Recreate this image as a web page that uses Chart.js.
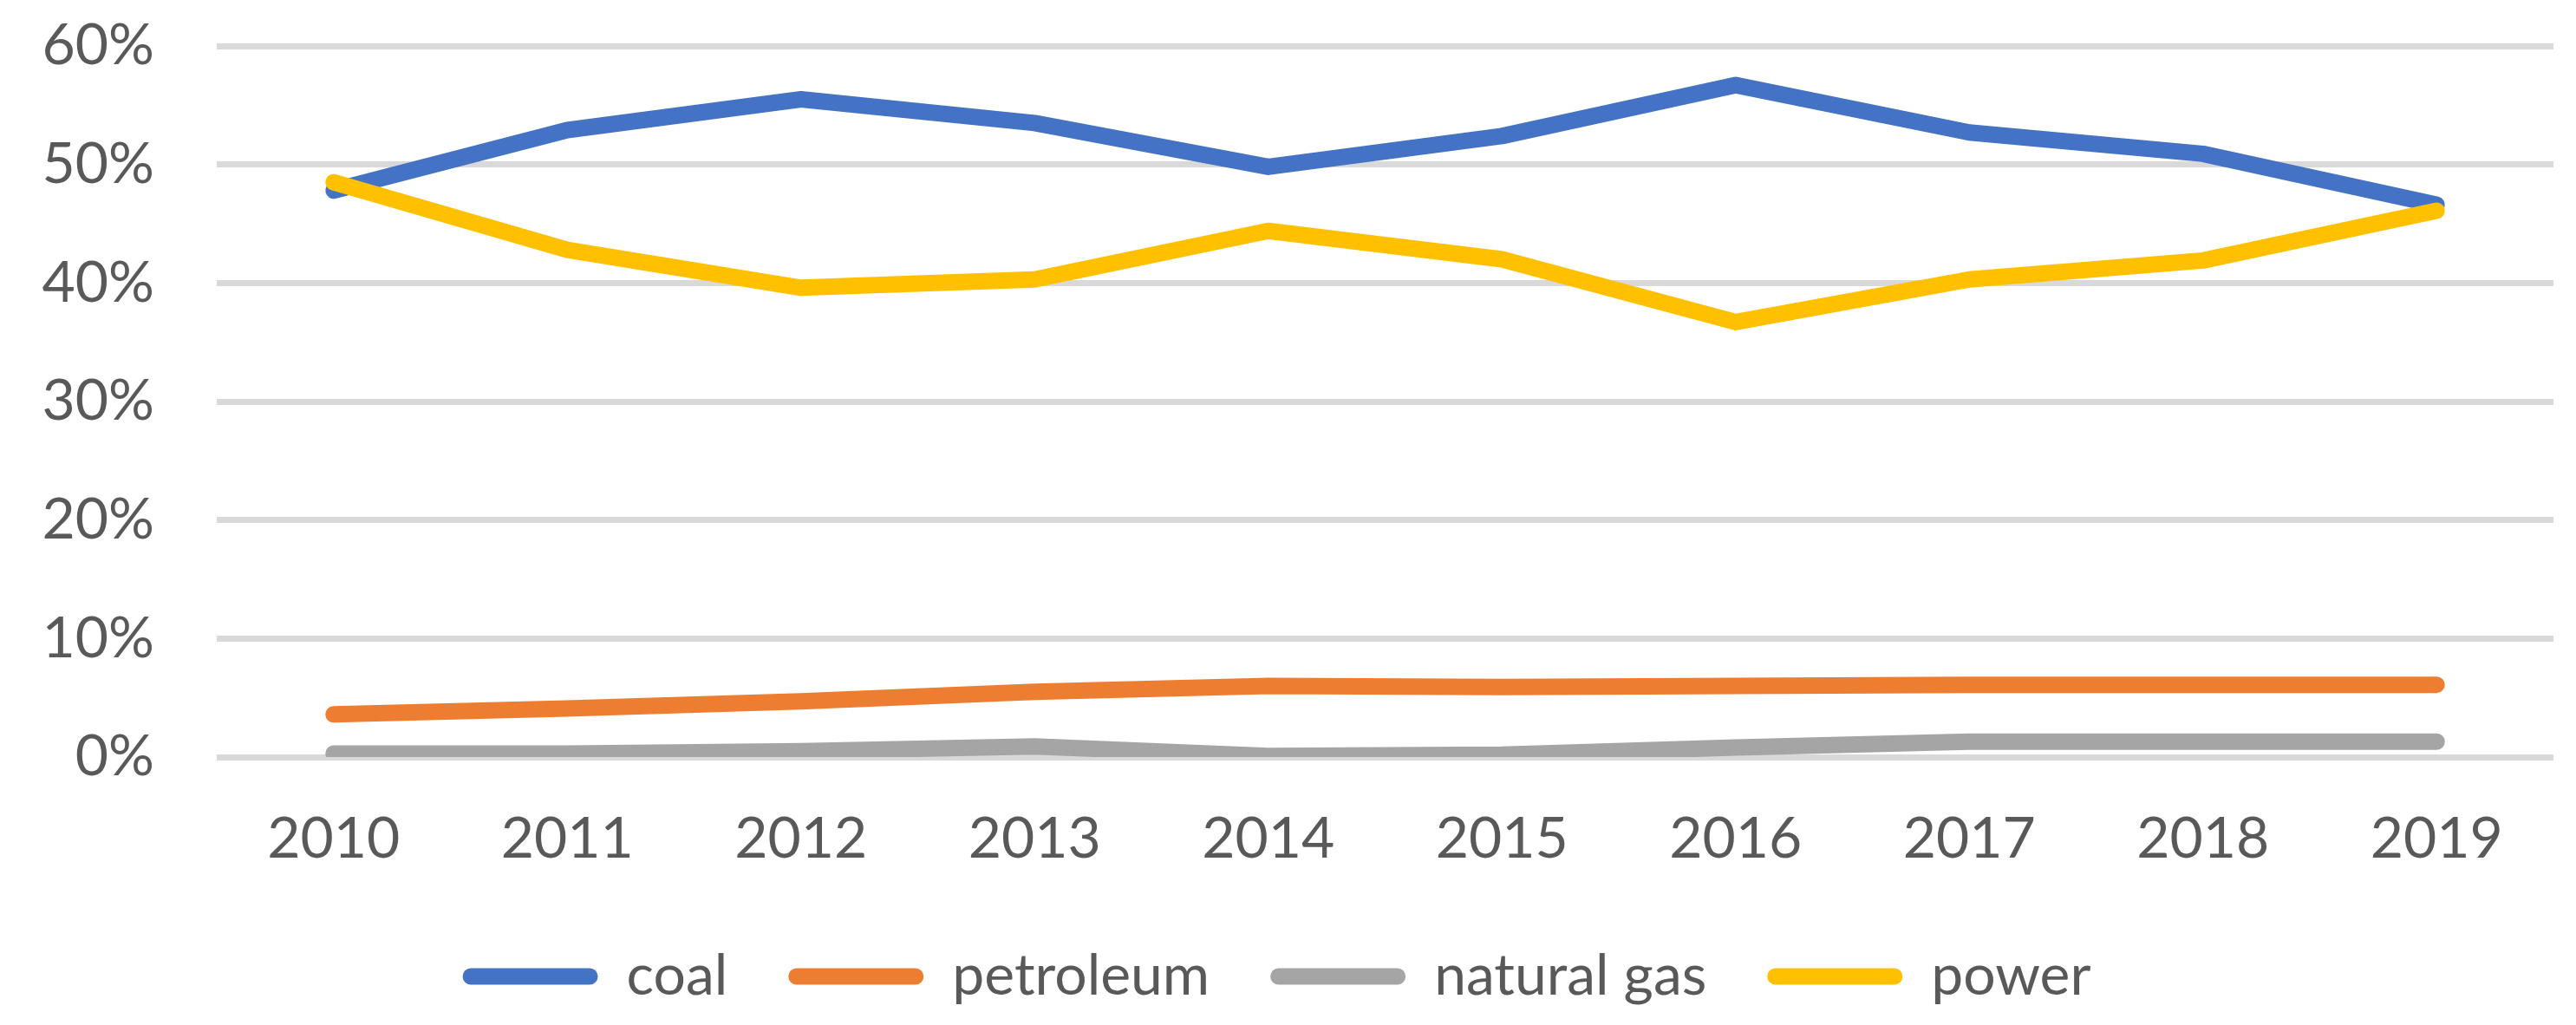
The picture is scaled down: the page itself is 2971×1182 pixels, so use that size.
<!DOCTYPE html>
<html>
<head>
<meta charset="utf-8">
<script src="https://cdn.jsdelivr.net/npm/chart.js@4/dist/chart.umd.min.js"></script>
<style>
html,body{margin:0;padding:0;background:#fff;overflow:hidden;}
canvas{display:block;}
</style>
</head>
<body>
<canvas id="c" width="2971" height="1182" style="width:2971px;height:1182px"></canvas>
<script>
const years = ['2010','2011','2012','2013','2014','2015','2016','2017','2018','2019'];
const coal = [47.8, 52.9, 55.5, 53.5, 49.8, 52.4, 56.7, 52.7, 50.9, 46.6];
const petroleum = [3.6, 4.1, 4.7, 5.5, 6.0, 5.9, 6.0, 6.1, 6.1, 6.1];
const naturalGas = [0.3, 0.3, 0.5, 0.9, 0.1, 0.2, 0.8, 1.3, 1.3, 1.3];
const power = [48.5, 42.8, 39.6, 40.3, 44.4, 42.0, 36.7, 40.3, 41.9, 46.1];
const yTicks = [0, 10, 20, 30, 40, 50, 60];

const seriesNames = ['coal', 'petroleum', 'natural gas', 'power'];
const seriesColors = ['#4472C4', '#ED7D31', '#A5A5A5', '#FFC000'];
const seriesData = [coal, petroleum, naturalGas, power];
const drawOrder = [1, 2, 3, 0];

const FONT = 'Lato, Carlito, "Open Sans", sans-serif';
const TEXT = '#595959';

const datasets = seriesNames.map((n, i) => ({
  label: n,
  data: seriesData[i],
  borderColor: seriesColors[i],
  backgroundColor: seriesColors[i],
  borderWidth: 19,
  borderCapStyle: 'round',
  borderJoinStyle: 'round',
  pointRadius: 0,
  pointHoverRadius: 0,
  tension: 0,
  fill: false,
  order: drawOrder[i]
}));

new Chart(document.getElementById('c'), {
  type: 'line',
  data: { labels: years, datasets },
  options: {
    responsive: false,
    devicePixelRatio: 1,
    animation: false,
    layout: { padding: { left: 0, right: 26, top: 53, bottom: 13 } },
    plugins: {
      tooltip: { enabled: false },
      legend: {
        position: 'bottom',
        align: 'center',
        labels: {
          font: { family: FONT, size: 66 },
          color: TEXT,
          boxWidth: 156,
          boxHeight: 19,
          padding: 70,
          useBorderRadius: true,
          borderRadius: 9.5,
          generateLabels: (chart) => chart.data.datasets.map((ds, i) => ({
            text: ds.label,
            fillStyle: ds.borderColor,
            strokeStyle: ds.borderColor,
            lineWidth: 0,
            borderRadius: 9.5,
            fontColor: TEXT,
            hidden: false,
            datasetIndex: i
          }))
        }
      }
    },
    scales: {
      x: {
        type: 'category',
        offset: true,
        grid: { display: false, drawTicks: false },
        border: { display: false },
        ticks: { font: { family: FONT, size: 66 }, color: TEXT, padding: 55, maxRotation: 0, autoSkip: false },
        afterFit: (s) => { s.height = 150; s.paddingLeft = 0; s.paddingRight = 0; }
      },
      y: {
        min: 0,
        max: 60,
        afterBuildTicks: (s) => { s.ticks = yTicks.map(v => ({ value: v })); },
        grid: { color: '#D9D9D9', lineWidth: 7, drawTicks: false },
        border: { display: false },
        ticks: { font: { family: FONT, size: 66 }, color: TEXT, padding: 72, callback: (v) => v + '%' },
        afterFit: (s) => { s.width = 250; s.paddingTop = 0; s.paddingBottom = 0; }
      }
    }
  }
});
</script>
</body>
</html>
